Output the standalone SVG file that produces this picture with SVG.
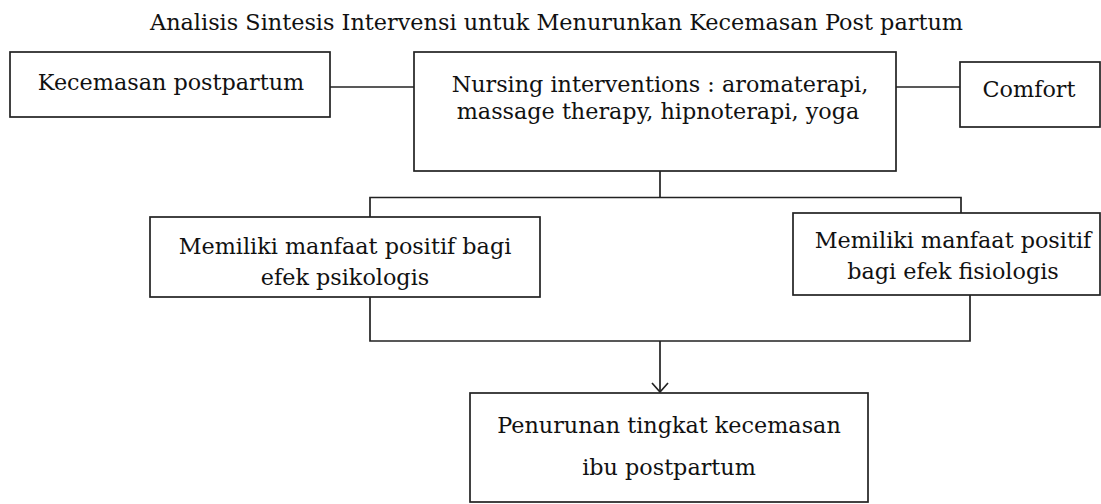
<svg xmlns="http://www.w3.org/2000/svg" width="1101" height="504" viewBox="0 0 1101 504">
<style>
  .box { fill: #ffffff; stroke: #222222; stroke-width: 1.7; }
  .t { font-family: "DejaVu Serif", "Liberation Serif", serif; font-size: 22.3px; fill: #111111; text-anchor: middle; }
  .ttl { font-family: "DejaVu Serif", "Liberation Serif", serif; font-size: 22px; fill: #111111; }
  .conn { fill: none; stroke: #222222; stroke-width: 1.7; }
</style>
<defs>
  <marker id="arrow" markerWidth="20" markerHeight="20" refX="10" refY="10" orient="auto" markerUnits="userSpaceOnUse">
    <path d="M1,2 L10,10 L1,18" fill="none" stroke="#222222" stroke-width="1.7"/>
  </marker>
</defs>
<rect width="1101" height="504" fill="#ffffff"/>
<text class="ttl" x="150" y="30" textLength="813" lengthAdjust="spacingAndGlyphs">Analisis Sintesis Intervensi untuk Menurunkan Kecemasan Post partum</text>
<g id="connectors">
  <line class="conn" x1="330" y1="87" x2="414" y2="87"/>
  <line class="conn" x1="896" y1="87" x2="960" y2="87"/>
  <polyline class="conn" points="660,171 660,197.5"/>
  <polyline class="conn" points="370,217 370,197.5 961,197.5 961,213"/>
  <polyline class="conn" points="370,297 370,341 970,341 970,295"/>
  <line class="conn" x1="660" y1="341" x2="660" y2="392" marker-end="url(#arrow)"/>
</g>
<g id="node-kecemasan">
  <rect class="box" x="10" y="52" width="320" height="65"/>
  <text class="t" x="171" y="90">Kecemasan postpartum</text>
</g>
<g id="node-nursing">
  <rect class="box" x="414" y="52" width="482" height="119"/>
  <text class="t" x="660" y="92">Nursing interventions : aromaterapi,</text>
  <text class="t" x="658" y="119">massage therapy, hipnoterapi, yoga</text>
</g>
<g id="node-comfort">
  <rect class="box" x="960" y="62" width="140" height="65"/>
  <text class="t" x="1029" y="97">Comfort</text>
</g>
<g id="node-psikologis">
  <rect class="box" x="150" y="217" width="390" height="80"/>
  <text class="t" x="345" y="254">Memiliki manfaat positif bagi</text>
  <text class="t" x="345" y="285">efek psikologis</text>
</g>
<g id="node-fisiologis">
  <rect class="box" x="793" y="213" width="307" height="82"/>
  <text class="t" x="953" y="248">Memiliki manfaat positif</text>
  <text class="t" x="953" y="279">bagi efek fisiologis</text>
</g>
<g id="node-penurunan">
  <rect class="box" x="470" y="393" width="398" height="109"/>
  <text class="t" x="669" y="433">Penurunan tingkat kecemasan</text>
  <text class="t" x="669" y="475">ibu postpartum</text>
</g>
</svg>
